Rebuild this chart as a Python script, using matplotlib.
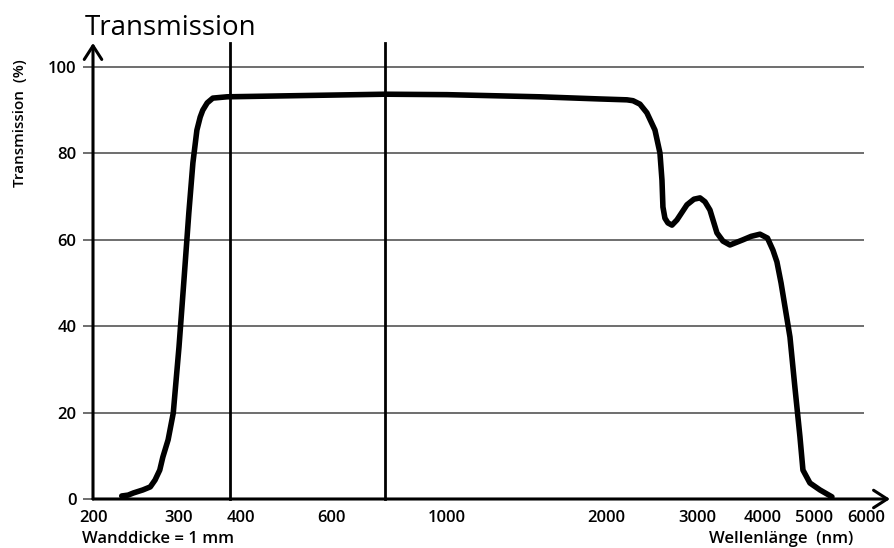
import numpy as np
import matplotlib.pyplot as plt
from matplotlib.scale import FuncScale

plt.rcParams['font.family'] = ['Open Sans', 'DejaVu Sans']

# Messpunkte der Transmissionskurve (nm, %)
wavelength = [229, 236, 242, 253, 262, 268, 274, 278, 285, 292, 300, 307, 314, 320, 326,
              331, 335, 342, 351, 375,
              760, 1000, 1500, 1950, 2196, 2256, 2327, 2400, 2488, 2544, 2567, 2578, 2601,
              2636, 2684, 2744, 2869, 2960, 3040, 3107, 3175, 3273, 3360, 3464, 3666, 3800,
              3948, 4080, 4179, 4252, 4330, 4502, 4600, 4703, 4765, 4913, 5106, 5326]
transmission = [0.7, 0.9, 1.4, 2.1, 2.8, 4.4, 6.7, 9.7, 13.7, 19.9, 35.2, 50.7, 66.2, 77.8, 85.4,
                88.4, 90.0, 91.7, 92.8, 93.1,
                93.7, 93.6, 93.1, 92.6, 92.4, 92.2, 91.4, 89.4, 85.4, 80.1, 73.8, 67.6, 65.0,
                63.9, 63.4, 64.6, 68.1, 69.4, 69.7, 68.8, 66.9, 61.6, 59.7, 58.8, 60.0, 60.8,
                61.3, 60.4, 57.6, 54.9, 50.0, 37.5, 25.9, 14.4, 6.7, 3.7, 2.1, 0.5]

# sichtbarer Bereich
visible_limits = [380, 760]

x_ticks = [200, 300, 400, 600, 1000, 2000, 3000, 4000, 5000, 6000]
y_ticks = [0, 20, 40, 60, 80, 100]

# Achse ist von Hand gezeichnet, nicht genau logarithmisch -> Stuetzstellen
scale_values = [100, 200, 300, 400, 600, 1000, 2000, 3000, 4000, 5000, 6000, 10000]
scale_pos = [-147, 0, 86, 148, 238, 354, 513, 604, 670, 721, 773, 919]
log_vals = np.log10(scale_values)


def forward(x):
    x = np.clip(np.asarray(x, dtype=float), 1e-9, None)
    return np.interp(np.log10(x), log_vals, scale_pos)


def inverse(p):
    return 10 ** np.interp(p, scale_pos, log_vals)


W, H = 894, 548
fig = plt.figure(figsize=(W / 100, H / 100), dpi=100)
left, right, top, bottom = 93, 890, 43, 499
ax = fig.add_axes([left / W, 1 - bottom / H, (right - left) / W, (bottom - top) / H])

ax.set_xscale(FuncScale(ax, (forward, inverse)))
ax.set_xlim(200, 6527)
ax.set_ylim(0, (bottom - top) / 4.32)

for s in ax.spines.values():
    s.set_visible(False)

# Gitterlinien
ax.hlines(y_ticks[1:], 200, 5950, color='#555555', lw=1.2, zorder=1)
for v in visible_limits:
    ax.axvline(v, color='black', lw=2, zorder=2, clip_on=False)

ax.plot(wavelength, transmission, color='black', lw=4,
        solid_capstyle='round', solid_joinstyle='round', zorder=3)

# Achsen mit Pfeilen
arrow = dict(arrowstyle='->,head_length=0.7,head_width=0.45', lw=2.2, color='black',
             shrinkA=0, shrinkB=0, mutation_scale=14)
ax.annotate('', xy=(0, 1.0), xytext=(0, 0), xycoords='axes fraction', arrowprops=arrow)
ax.annotate('', xy=(1.0, 0), xytext=(0, 0), xycoords='axes fraction', arrowprops=arrow)

ax.set_xticks(x_ticks)
ax.set_xticklabels([str(t) for t in x_ticks], fontweight='semibold')
ax.xaxis.set_minor_locator(plt.NullLocator())
ax.set_yticks(y_ticks)
ax.set_yticklabels([str(t) for t in y_ticks], fontweight='semibold')
ax.tick_params(axis='x', length=0, pad=8, labelsize=12)
ax.tick_params(axis='y', length=7, width=1.2, color='#555555', pad=5, labelsize=12)

fig.text(85 / W, 1 - 35 / H, 'Transmission', fontsize=20, ha='left', va='baseline')
fig.text(20 / W, 1 - 123 / H, 'Transmission  (%)', fontsize=11, rotation=90,
         ha='center', va='center', fontweight='semibold')
fig.text(82 / W, 1 - 543 / H, 'Wanddicke = 1 mm', fontsize=12, ha='left', va='baseline',
         fontweight='semibold')
fig.text(853 / W, 1 - 543 / H, 'Wellenlänge  (nm)', fontsize=12, ha='right', va='baseline',
         fontweight='semibold')

fig.savefig('out.png', dpi=100)
